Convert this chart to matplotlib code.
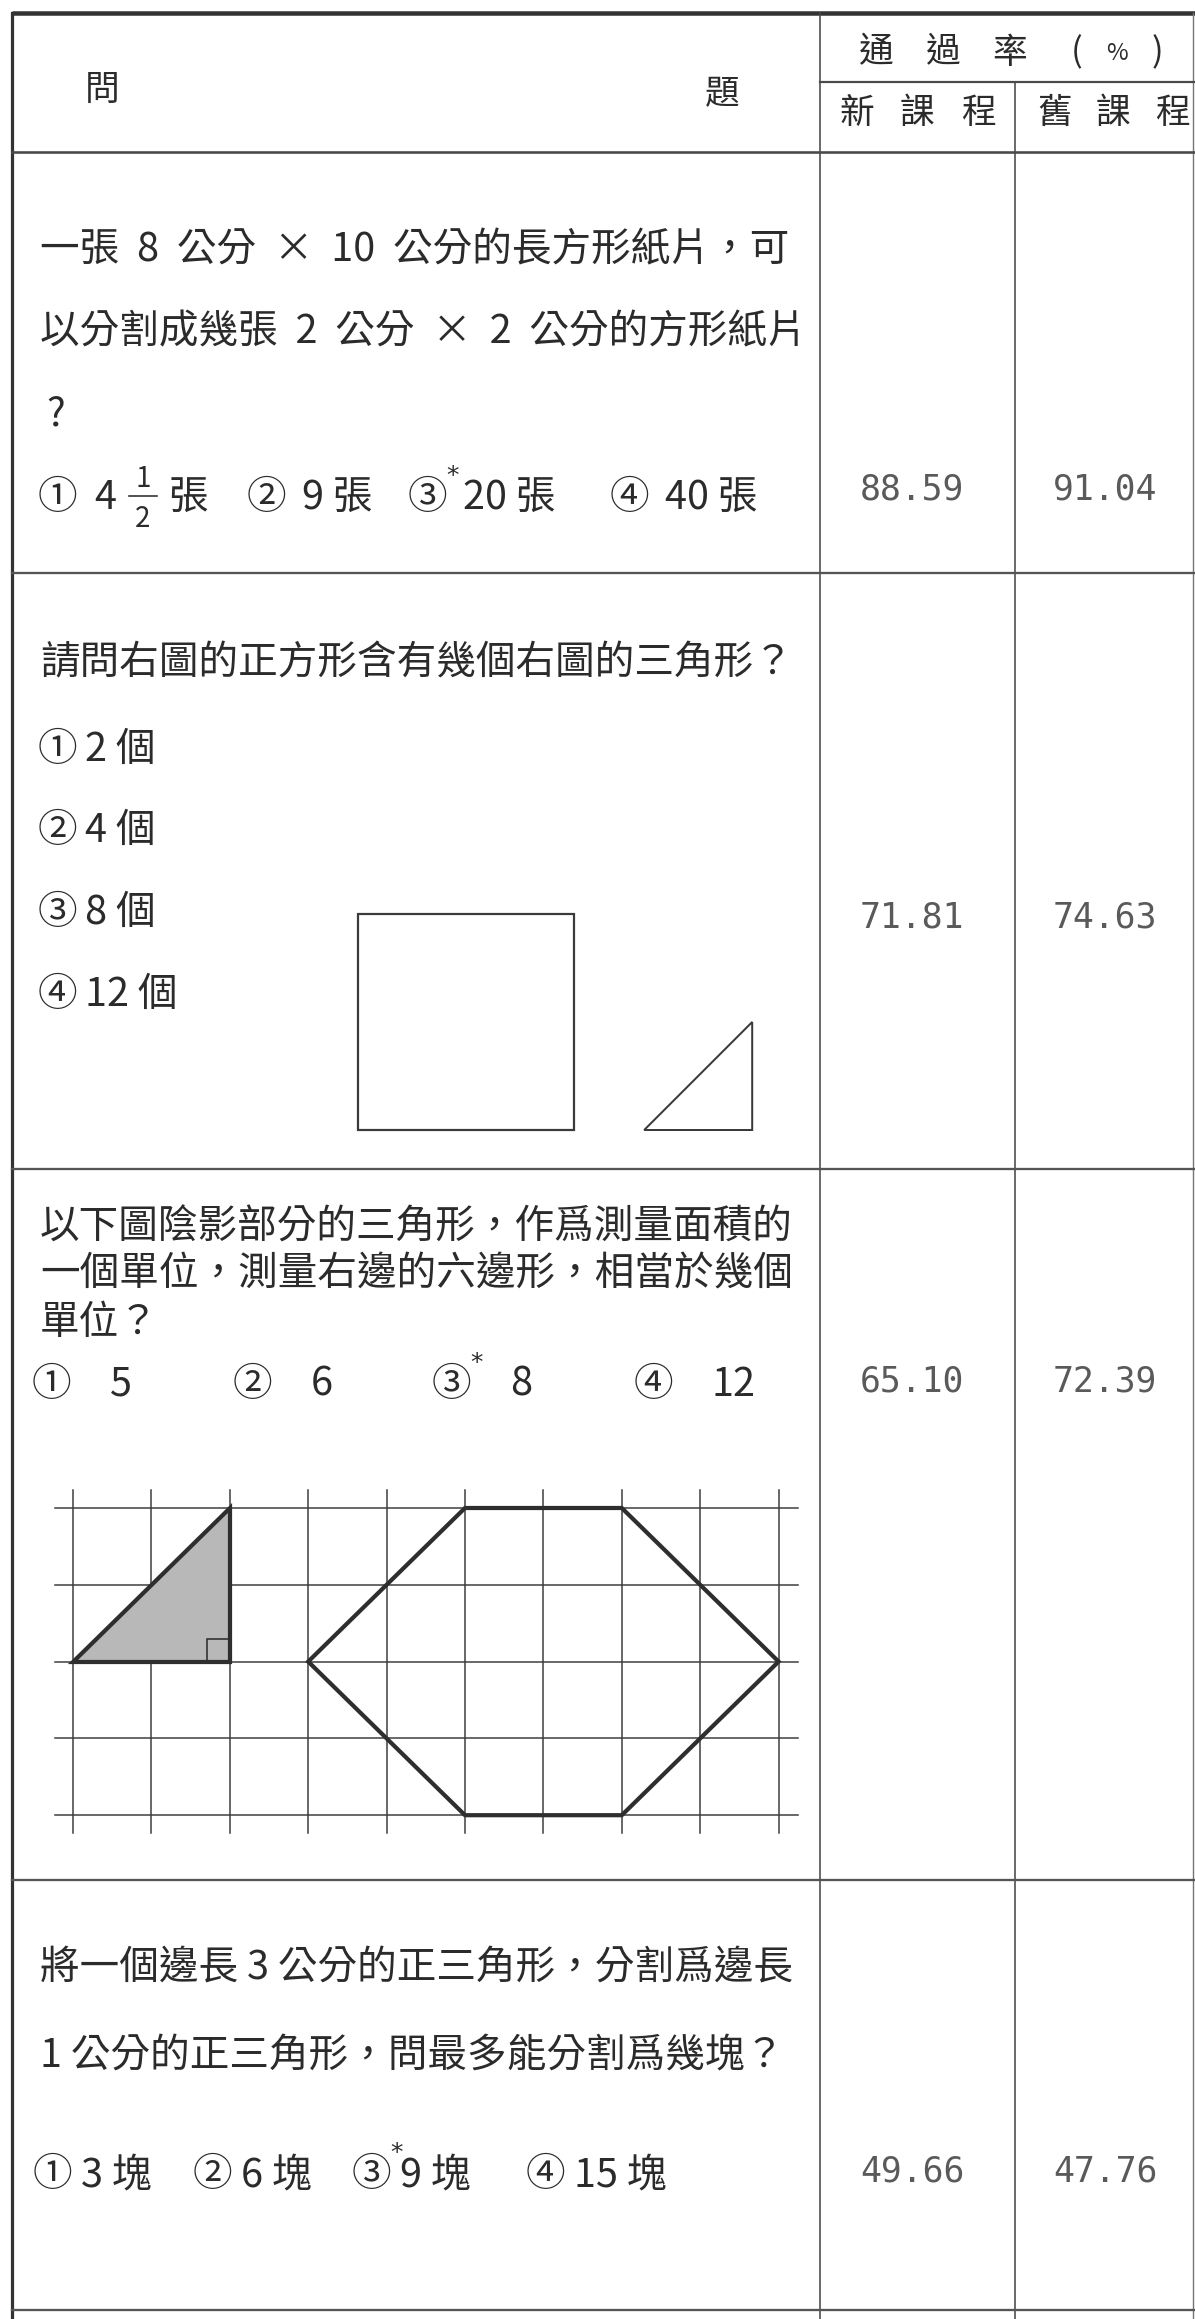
import matplotlib
matplotlib.use('Agg')
import matplotlib.pyplot as plt
from matplotlib.patches import Polygon, Rectangle

plt.rcParams['font.family'] = ['Noto Sans CJK TC', 'DejaVu Sans']

# ---- table content ----
header_question = ['問', '題']
header_rate = ['通', '過', '率', '(', '%', ')']
header_new = ['新', '課', '程']
header_old = ['舊', '課', '程']

q_lines = [
    ['一張  8  公分  ×  10  公分的長方形紙片，可',
     '以分割成幾張  2  公分  ×  2  公分的方形紙片',
     '?'],
    ['請問右圖的正方形含有幾個右圖的三角形？'],
    ['以下圖陰影部分的三角形，作爲測量面積的',
     '一個單位，測量右邊的六邊形，相當於幾個',
     '單位？'],
    ['將一個邊長 3 公分的正三角形，分割爲邊長',
     '1 公分的正三角形，問最多能分割爲幾塊？'],
]
circled = ['①', '②', '③', '④']
opt_labels = [
    ['4 1/2 張', '9 張', '20 張', '40 張'],
    ['2 個', '4 個', '8 個', '12 個'],
    ['5', '6', '8', '12'],
    ['3 塊', '6 塊', '9 塊', '15 塊'],
]
answer = [3, 0, 3, 3]          # starred option (0 = no star printed)
pass_new = [88.59, 71.81, 65.10, 49.66]
pass_old = [91.04, 74.63, 72.39, 47.76]

# figure geometry, in "units" of each drawing
square_units = [(0, 0), (2, 0), (2, 2), (0, 2)]
small_tri_units = [(2.65, 2), (3.65, 2), (3.65, 1)]
grid_cols, grid_rows = 10, 5
shaded_tri = [(0, 2), (2, 2), (2, 0)]
hexagon = [(3, 2), (5, 0), (7, 0), (9, 2), (7, 4), (5, 4)]

# ---- layout (pixels) ----
W, H = 1195, 2319
X_L, X_C1, X_C2, X_R = 12, 820, 1015, 1193
Y_TOP, Y_HMID, Y_HBOT = 13, 82, 152
row_bottoms = [573, 1169, 1880, 2310]

q_y = [[250, 332, 415], [663], [1228, 1275, 1323], [1968, 2056]]
q_x = [[40, 40, 46], [40], [40, 40, 40], [40, 40]]
opt_x = [[38, 247, 408, 610], [38, 38, 38, 38], [32, 233, 432, 634], [33, 193, 352, 526]]
opt_y = [[498] * 4, [750, 831, 913, 995], [1385] * 4, [2175] * 4]
label_off = [55, 47, 78, 48]
num_y = [490, 918, 1382, 2172]

TXT = '#2b2b2b'
LINE = '#4a4a4a'
FS = 28.5

fig = plt.figure(figsize=(W / 100, H / 100), dpi=100)
ax = fig.add_axes([0, 0, 1, 1])
ax.set_xlim(0, W)
ax.set_ylim(H, 0)
ax.axis('off')


def px(n):
    return n * 0.72


# table lines
ax.plot([X_L, W], [Y_TOP, Y_TOP], color='#333333', lw=px(4.5), solid_capstyle='butt')
ax.plot([X_L, X_L], [Y_TOP, H], color='#333333', lw=px(3.2))
ax.plot([X_C1, X_C1], [Y_TOP, H], color=LINE, lw=px(1.6))
ax.plot([X_C2, X_C2], [Y_HMID, H], color=LINE, lw=px(1.6))
ax.plot([X_R, X_R], [Y_TOP, H], color='#777777', lw=px(1.4))
ax.plot([X_C1, W], [Y_HMID, Y_HMID], color=LINE, lw=px(2.2))
ax.plot([X_L, W], [Y_HBOT, Y_HBOT], color=LINE, lw=px(2.6))
for yb in row_bottoms:
    ax.plot([X_L, W], [yb, yb], color='#555555', lw=px(2.3))

# header
ax.text(102, 90, header_question[0], fontsize=25, color=TXT, ha='center', va='center')
ax.text(722, 95, header_question[1], fontsize=25, color=TXT, ha='center', va='center')
for ch, xc in zip(header_rate, [876, 943, 1010, 1077, 1117, 1157]):
    ax.text(xc, 53, ch, fontsize=25 if ch != '%' else 17, color=TXT, ha='center', va='center')
for ch, xc in zip(header_new, [857, 917, 978]):
    ax.text(xc, 113, ch, fontsize=25, color=TXT, ha='center', va='center')
for ch, xc in zip(header_old, [1055, 1113, 1172]):
    ax.text(xc, 113, ch, fontsize=25, color=TXT, ha='center', va='center')

# question text
for lines, ys, xs in zip(q_lines, q_y, q_x):
    for s, y, x in zip(lines, ys, xs):
        ax.text(x, y, s, fontsize=FS, color=TXT, ha='left', va='center')

# options
for r in range(4):
    for k in range(4):
        x, y = opt_x[r][k], opt_y[r][k]
        ax.text(x, y, circled[k], fontsize=FS, color=TXT, ha='left', va='center')
        if answer[r] == k + 1:
            ax.text(x + 38, y - 22, '*', fontsize=18, color=TXT, ha='left', va='center',
                    family='DejaVu Sans')
        lab = opt_labels[r][k]
        if '1/2' in lab:
            whole, frac, unit = lab.split(' ')
            num, den = frac.split('/')
            ax.text(x + 56, y, whole, fontsize=FS, color=TXT, ha='left', va='center')
            ax.text(x + 105, y - 19, num, fontsize=20, color=TXT, ha='center', va='center')
            ax.text(x + 105, y + 21, den, fontsize=20, color=TXT, ha='center', va='center')
            ax.plot([x + 91, x + 119], [y - 2, y - 2], color=TXT, lw=px(1.6))
            ax.text(x + 131, y, unit, fontsize=FS, color=TXT, ha='left', va='center')
        else:
            ax.text(x + label_off[r], y, lab, fontsize=FS, color=TXT, ha='left', va='center')

# pass rates
for r in range(4):
    ax.text(912, num_y[r], f'{pass_new[r]:.2f}', fontsize=25, color='#5a5a5a',
            ha='center', va='center', family='DejaVu Sans Mono')
    ax.text(1105, num_y[r], f'{pass_old[r]:.2f}', fontsize=25, color='#5a5a5a',
            ha='center', va='center', family='DejaVu Sans Mono')

# row 2 drawing: square and small triangle
u2, sx0, sy0 = 108, 358, 914
to2 = lambda p: (sx0 + p[0] * u2, sy0 + p[1] * u2)
ax.add_patch(Polygon([to2(p) for p in square_units], closed=True, fill=False,
                     edgecolor='#3a3a3a', lw=px(2.2)))
ax.add_patch(Polygon([to2(p) for p in small_tri_units], closed=True, fill=False,
                     edgecolor='#3a3a3a', lw=px(2.0)))

# row 3 drawing: grid, shaded triangle, hexagon
gx0, gy0, cw, chh = 73, 1508, 78.4, 76.8
to3 = lambda p: (gx0 + p[0] * cw, gy0 + p[1] * chh)
for i in range(grid_cols):
    xg = gx0 + i * cw
    ax.plot([xg, xg], [gy0 - 18, gy0 + (grid_rows - 1) * chh + 18], color='#3a3a3a', lw=px(1.5))
for j in range(grid_rows):
    yg = gy0 + j * chh
    ax.plot([gx0 - 18, gx0 + (grid_cols - 1) * cw + 19], [yg, yg], color='#3a3a3a', lw=px(1.5))

ax.add_patch(Polygon([to3(p) for p in shaded_tri], closed=True, facecolor='#b8b8b8',
                     edgecolor='#2e2e2e', lw=px(4.2), joinstyle='miter', zorder=3))
cx, cy = to3(shaded_tri[1])
ax.add_patch(Rectangle((cx - 23, cy - 23), 23, 23, fill=False, edgecolor='#2e2e2e',
                       lw=px(1.6), zorder=4))
ax.add_patch(Polygon([to3(p) for p in hexagon], closed=True, fill=False,
                     edgecolor='#2e2e2e', lw=px(4.2), joinstyle='miter', zorder=3))

fig.savefig('out.png', dpi=100, facecolor='white')
